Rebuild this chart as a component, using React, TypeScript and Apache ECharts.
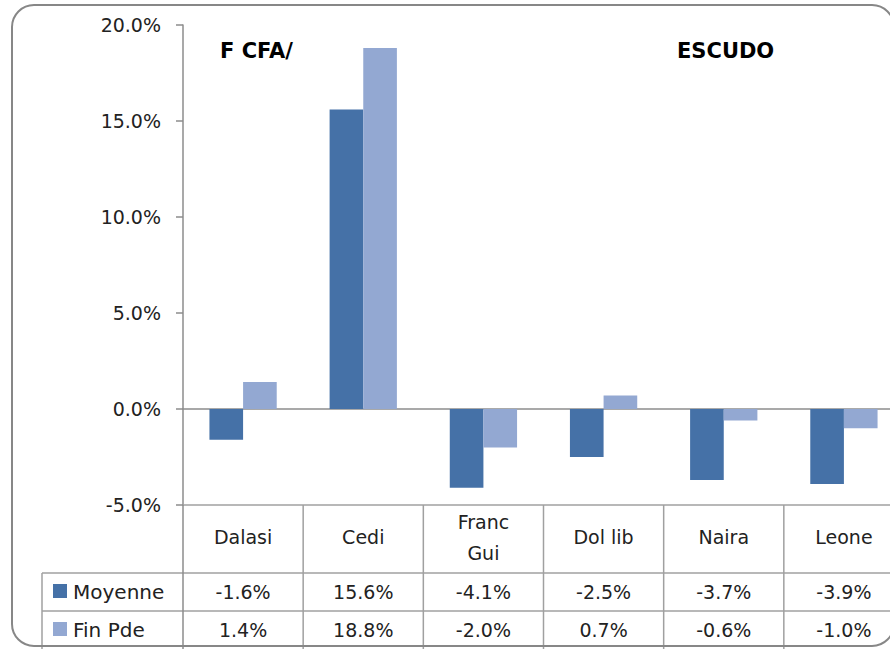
import React, { useEffect, useRef } from "react";
import * as echarts from "echarts";

const categories = ["Dalasi", "Cedi", "Franc\nGui", "Dol lib", "Naira", "Leone"];
const seriesNames = ["Moyenne", "Fin Pde"];
const moyenne = [-1.6, 15.6, -4.1, -2.5, -3.7, -3.9];
const finPde = [1.4, 18.8, -2.0, 0.7, -0.6, -1.0];
const yMin = -5;
const yMax = 20;
const yStep = 5;
const notes = ["F CFA/", "ESCUDO"];

const DARK = "#4571a7";
const LIGHT = "#93a8d2";
const LINE = "#a0a0a0";
const AXIS = "#8c8c8c";
const TEXT = "#222222";
const FONT = "DejaVu Sans";

const fmt = (v: number) => `${v.toFixed(1)}%`;

export default function App() {
  const ref = useRef<HTMLDivElement>(null);
  useEffect(() => {
    document.body.style.margin = "0";
    const chart = echarts.init(ref.current!, null, { renderer: "svg" });
    chart.setOption({
      animation: false,
      backgroundColor: "#ffffff",
      grid: { left: 183, top: 25, width: 721, height: 480, containLabel: false },
      xAxis: {
        type: "category",
        data: categories,
        axisLine: { onZero: true, lineStyle: { color: AXIS, width: 1.5 } },
        axisTick: { show: false },
        axisLabel: { show: false },
        splitLine: { show: false },
      },
      yAxis: {
        type: "value",
        min: yMin,
        max: yMax,
        interval: yStep,
        axisLine: { show: true, lineStyle: { color: AXIS, width: 1.5 } },
        axisTick: { show: true, length: 7, lineStyle: { color: AXIS, width: 1.5 } },
        axisLabel: {
          formatter: (v: number) => fmt(v),
          fontFamily: FONT,
          fontSize: 19,
          color: TEXT,
          margin: 22,
        },
        splitLine: { show: false },
      },
      series: [
        {
          name: seriesNames[0],
          type: "bar",
          data: moyenne,
          barWidth: "28%",
          barGap: "0%",
          itemStyle: { color: DARK },
        },
        {
          name: seriesNames[1],
          type: "bar",
          data: finPde,
          barWidth: "28%",
          barGap: "0%",
          itemStyle: { color: LIGHT },
        },
      ],
    });

    const centers = categories.map((_, i) => chart.convertToPixel({ xAxisIndex: 0 }, i) as number);
    const band = centers.length > 1 ? centers[1] - centers[0] : 120;
    const yBottom = chart.convertToPixel({ yAxisIndex: 0 }, yMin) as number;
    const axisX = centers[0] - band / 2;
    const row1 = yBottom + 68;
    const row2 = row1 + 38;
    const row3 = row2 + 38;
    const legendLeft = 42;
    const rightEdge = 920;

    const g: any[] = [];
    const line = (x1: number, y1: number, x2: number, y2: number, color = LINE) =>
      g.push({ type: "line", shape: { x1, y1, x2, y2 }, style: { stroke: color, lineWidth: 1.5 }, z: 10 });

    line(axisX, yBottom, rightEdge, yBottom);
    line(legendLeft, row1, rightEdge, row1);
    line(legendLeft, row2, rightEdge, row2);
    line(legendLeft, row1, legendLeft, row3 + 5);
    line(axisX, yBottom, axisX, row3 + 5, AXIS);
    centers.forEach((c, i) => {
      if (i > 0) line(c - band / 2, yBottom, c - band / 2, row3 + 5);
    });
    line(centers[centers.length - 1] + band / 2, yBottom, centers[centers.length - 1] + band / 2, row3 + 5);

    centers.forEach((c, i) => {
      g.push({
        type: "text",
        x: c,
        y: (yBottom + row1) / 2 - 2,
        style: {
          text: categories[i],
          fontFamily: FONT,
          fontSize: 19,
          fill: TEXT,
          align: "center",
          verticalAlign: "middle",
          lineHeight: 31,
        },
        z: 11,
      });
      g.push({
        type: "text",
        x: c,
        y: (row1 + row2) / 2,
        style: { text: fmt(moyenne[i]), fontFamily: FONT, fontSize: 19, fill: TEXT, align: "center", verticalAlign: "middle" },
        z: 11,
      });
      g.push({
        type: "text",
        x: c,
        y: (row2 + row3) / 2,
        style: { text: fmt(finPde[i]), fontFamily: FONT, fontSize: 19, fill: TEXT, align: "center", verticalAlign: "middle" },
        z: 11,
      });
    });

    [DARK, LIGHT].forEach((col, k) => {
      const top = k === 0 ? row1 : row2;
      g.push({ type: "rect", shape: { x: 53, y: top + 11, width: 14, height: 14 }, style: { fill: col }, z: 11 });
      g.push({
        type: "text",
        x: 73,
        y: top + 19,
        style: { text: seriesNames[k], fontFamily: FONT, fontSize: 20, fill: TEXT, align: "left", verticalAlign: "middle" },
        z: 11,
      });
    });

    g.push({
      type: "text",
      x: 220,
      y: 51,
      style: { text: notes[0], fontFamily: FONT, fontSize: 21, fontWeight: "bold", fill: "#000", align: "left", verticalAlign: "middle" },
      z: 11,
    });
    g.push({
      type: "text",
      x: 677,
      y: 51,
      style: { text: notes[1], fontFamily: FONT, fontSize: 21, fontWeight: "bold", fill: "#000", align: "left", verticalAlign: "middle" },
      z: 11,
    });

    g.push({
      type: "rect",
      shape: { x: 12, y: 5, width: 882, height: 641, r: 22 },
      style: { fill: "none", stroke: "#878787", lineWidth: 2 },
      z: 12,
    });

    chart.setOption({ graphic: g });
    return () => chart.dispose();
  }, []);
  return (
    <div style={{ position: "fixed", left: 0, top: 0, width: 890, height: 649, overflow: "hidden" }}>
      <div ref={ref} style={{ width: 930, height: 649 }} />
    </div>
  );
}
